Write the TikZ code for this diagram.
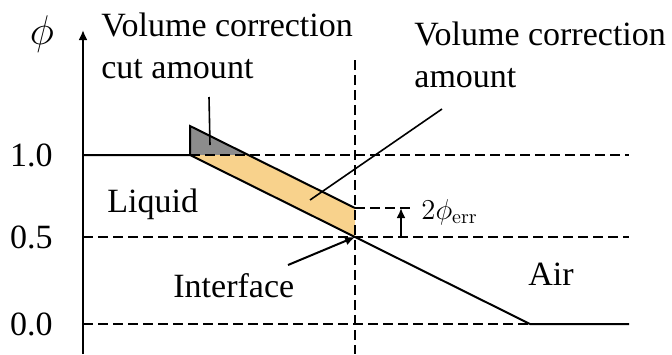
\documentclass[tikz,border=0pt]{standalone}
\usepackage[no-math]{fontspec}
\setmainfont{Liberation Serif}
\usetikzlibrary{arrows.meta,positioning,calc}
\definecolor{corrfill}{RGB}{248,210,140}
\definecolor{cutfill}{RGB}{140,140,140}
\tikzset{
  plabel/.style={font=\fontsize{17}{21}\selectfont, inner sep=0pt, align=left},
  psmall/.style={font=\fontsize{14}{17}\selectfont, inner sep=0pt},
  pline/.style={line width=1pt},
  pdash/.style={line width=0.9pt, dash pattern=on 5pt off 2.5pt},
  parrow/.style={-{Latex[length=5pt,width=4.5pt]}, line width=1pt},
  pleader/.style={line width=0.8pt}
}

\begin{document}
\begin{tikzpicture}[x=0.5pt,y=-0.5pt]
\useasboundingbox (0,0) rectangle (672,354);
\coordinate (axbot) at (83,354);
\coordinate (axtop) at (83,30);
\coordinate (one) at (83,155);
\coordinate (half) at (83,237);
\coordinate (zero) at (83,324);
\coordinate (kneeA) at (190,155);
\coordinate (bandtop) at (190,126);
\coordinate (cutend) at (248,155);
\coordinate (iface) at (355,237);
\coordinate (errtop) at (355,208);
\coordinate (kneeB) at (530,324);
\coordinate (oneend) at (629,155);
\coordinate (halfend) at (629,237);
\coordinate (zeroend) at (629,324);
\coordinate (vtop) at (355,60);
\coordinate (vbot) at (355,354);
\coordinate (errend) at (410,208);
\coordinate (errfoot) at (401,237);
\coordinate (errhead) at (401,208);

\fill[cutfill] (kneeA) -- (bandtop) -- (cutend) -- cycle;
\fill[corrfill] (kneeA) -- (cutend) -- (errtop) -- (iface) -- cycle;

\draw[pdash] (kneeA) -- (oneend);
\draw[pdash] (half) -- (halfend);
\draw[pdash] (zero) -- (kneeB);
\draw[pdash] (vtop) -- (vbot);
\draw[pdash] (errtop) -- (errend);

\draw[pline] (one) -- (kneeA) -- (iface) -- (kneeB) -- (zeroend);
\draw[pline] (kneeA) -- (bandtop) -- (errtop);
\draw[pline, -{Latex[length=5pt,width=4.5pt]}] (axbot) -- (axtop);
\draw[parrow] (errfoot) -- (errhead);

\node[plabel, font=\fontsize{21}{24}\selectfont] (phi) at (42,34) {$\phi$};
\node[plabel, anchor=east] (l10) at (53,155) {1.0};
\node[plabel, anchor=east] (l05) at (53,237) {0.5};
\node[plabel, anchor=east] (l00) at (53,324) {0.0};

\node[plabel, anchor=north west] (cutlbl) at (101,13) {Volume correction\\cut amount};
\node[plabel, anchor=north west] (corrlbl) at (414,22) {Volume correction\\amount};
\node[plabel, anchor=base west] (liquid) at (107,212) {Liquid};
\node[plabel, anchor=base west] (ifacelbl) at (173,297) {Interface};
\node[plabel, anchor=base west] (air) at (528,285) {Air};
\node[psmall, anchor=west] (errlbl) at (421,212) {$2\phi_{\mathrm{err}}$};

\coordinate (cuttop) at (209,97);
\coordinate (cutpt) at (210,145);
\coordinate (corrtop) at (442,109);
\coordinate (corrpt) at (310,200);
\coordinate (ifacefrom) at (288,265);
\draw[pleader] (cuttop) -- (cutpt);
\draw[pleader] (corrtop) -- (corrpt);
\draw[parrow] (ifacefrom) -- (iface);
\end{tikzpicture}
\end{document}
